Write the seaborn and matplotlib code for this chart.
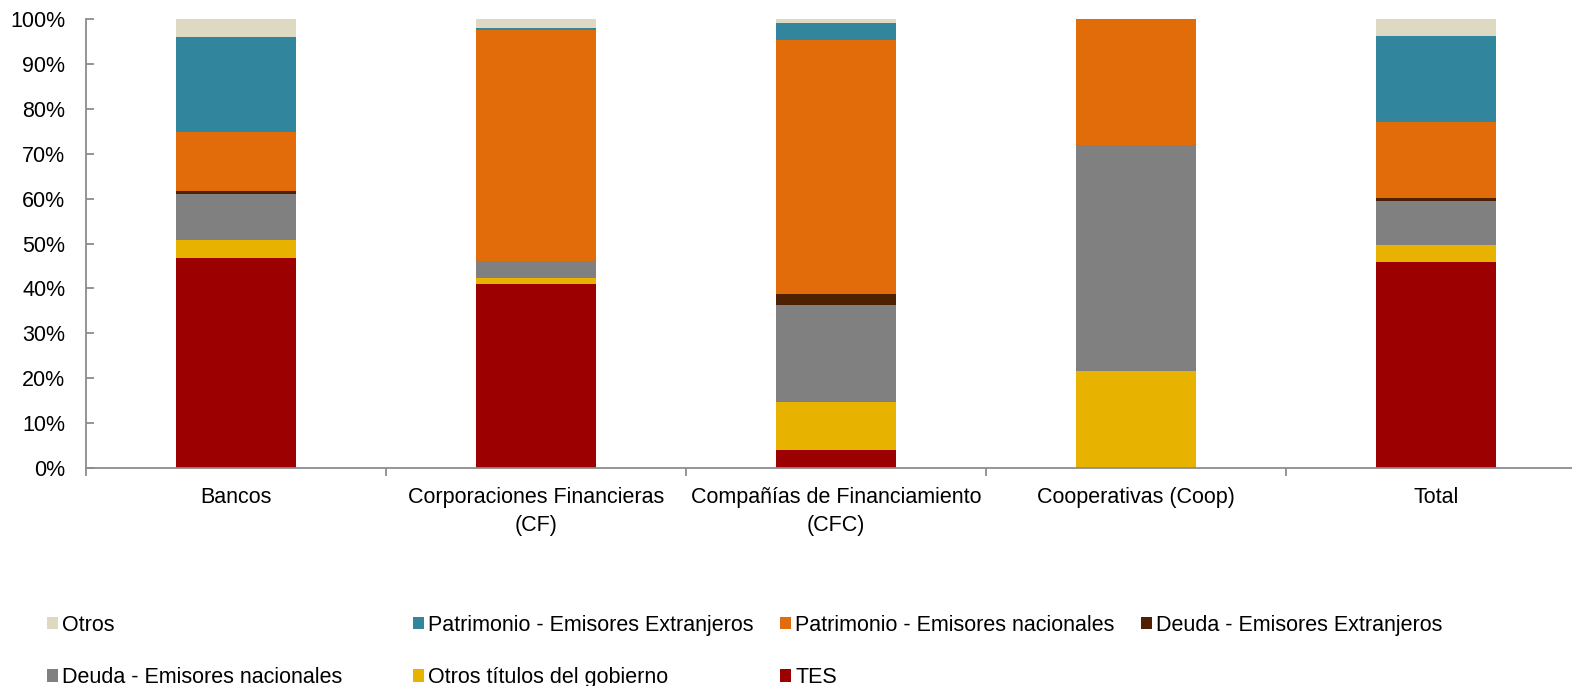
import numpy as np
import pandas as pd
import seaborn as sns
import matplotlib.pyplot as plt
from matplotlib.patches import Patch
from matplotlib.ticker import PercentFormatter

sns.set_theme(style="white")
plt.rcParams["font.family"] = ["Liberation Sans", "DejaVu Sans"]

categories = ["Bancos", "Corporaciones Financieras\n(CF)",
              "Compañías de Financiamiento\n(CFC)", "Cooperativas (Coop)", "Total"]

# Share of each holder type's portfolio (%), bottom to top
tes = [46.7, 40.9, 4.1, 0.0, 45.9]
otros_gobierno = [4.1, 1.5, 10.6, 21.7, 3.8]
deuda_nacionales = [10.2, 3.6, 21.5, 50.2, 9.8]
deuda_extranjeros = [0.7, 0.1, 2.5, 0.0, 0.7]
patrimonio_nacionales = [13.2, 51.4, 56.6, 28.1, 16.8]
patrimonio_extranjeros = [21.2, 0.6, 3.9, 0.0, 19.3]
otros = [3.9, 1.9, 0.8, 0.0, 3.7]

series = [
    ("TES", tes, "#9C0000"),
    ("Otros títulos del gobierno", otros_gobierno, "#E8B200"),
    ("Deuda - Emisores nacionales", deuda_nacionales, "#808080"),
    ("Deuda - Emisores Extranjeros", deuda_extranjeros, "#4D2102"),
    ("Patrimonio - Emisores nacionales", patrimonio_nacionales, "#E36C0A"),
    ("Patrimonio - Emisores Extranjeros", patrimonio_extranjeros, "#31859C"),
    ("Otros", otros, "#DDD9C3"),
]

FS = 15.5
W, H = 1572, 686
fig = plt.figure(figsize=(W / 100, H / 100), dpi=100)
ax = fig.add_axes([86 / W, 1 - 468 / H, (W - 86) / W, (468 - 19) / H])

bottom = np.zeros(len(categories))
for name, vals, col in series:
    df = pd.DataFrame({"cat": categories, "val": vals})
    sns.barplot(data=df, x="cat", y="val", order=categories, color=col,
                width=0.4, bottom=bottom.copy(), linewidth=0, ax=ax,
                saturation=1)
    bottom += np.array(vals)

ax.set_xlim(-0.5, 4.453)
ax.set_ylim(0, 100)
ax.set_yticks(np.arange(0, 101, 10))
ax.yaxis.set_major_formatter(PercentFormatter(decimals=0))
ax.set_xlabel("")
ax.set_ylabel("")

spine_col = "#8C8C8C"
for s in ["top", "right"]:
    ax.spines[s].set_visible(False)
for s in ["left", "bottom"]:
    ax.spines[s].set_color(spine_col)
    ax.spines[s].set_linewidth(1.3)

ax.tick_params(axis="y", which="major", direction="in", length=6, width=1.3,
               color=spine_col, labelsize=FS, pad=15, labelcolor="#000000",
               left=True)
ax.set_xticks(np.arange(-0.5, 4.0, 1.0), minor=True)
ax.tick_params(axis="x", which="minor", direction="out", length=6, width=1.3,
               color=spine_col, bottom=True)
ax.tick_params(axis="x", which="major", length=0, labelsize=FS, pad=14,
               labelcolor="#000000")
for lbl in ax.get_xticklabels():
    lbl.set_linespacing(1.4)

# Legend laid out as a 4-column grid, filled row by row
lookup = {name: col for name, _, col in series}
rows = [["Otros", "Deuda - Emisores nacionales"],
        ["Patrimonio - Emisores Extranjeros", "Otros títulos del gobierno"],
        ["Patrimonio - Emisores nacionales", "TES"],
        ["Deuda - Emisores Extranjeros"]]
col_x = [47, 413, 780, 1141]
for xpix, names in zip(col_x, rows):
    handles = [Patch(facecolor=lookup[n], edgecolor="none", label=n) for n in names]
    leg = fig.legend(handles=handles, loc="upper left",
                     bbox_to_anchor=(xpix / W, 1 - 615 / H),
                     frameon=False, fontsize=FS, handlelength=0.5,
                     handleheight=0.5, handletextpad=0.2,
                     labelspacing=1.45, borderpad=0, borderaxespad=0)
    for t in leg.get_texts():
        t.set_color("#000000")

fig.savefig("out.png", dpi=100)
